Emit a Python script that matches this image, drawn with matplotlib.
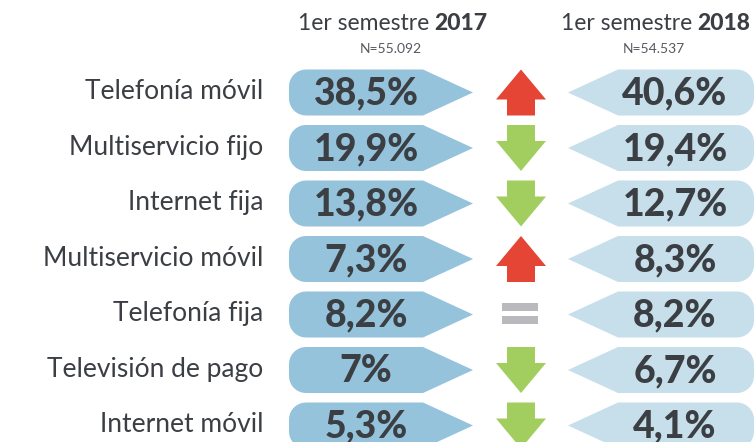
import numpy as np
import matplotlib
matplotlib.use("Agg")
import matplotlib.pyplot as plt
from matplotlib.path import Path
from matplotlib.patches import PathPatch, Polygon, Rectangle

# data
services = ["Telefonía móvil", "Multiservicio fijo", "Internet fija",
            "Multiservicio móvil", "Telefonía fija", "Televisión de pago",
            "Internet móvil"]
share_2017 = ["38,5%", "19,9%", "13,8%", "7,3%", "8,2%", "7%", "5,3%"]
share_2018 = ["40,6%", "19,4%", "12,7%", "8,3%", "8,2%", "6,7%", "4,1%"]
trend = ["up", "down", "down", "up", "eq", "down", "down"]
headers = ["2017", "2018"]
n_labels = ["N=55.092", "N=54.537"]

plt.rcParams['font.family'] = ['Lato', 'DejaVu Sans']

W, H = 754, 442
fig = plt.figure(figsize=(W / 100, H / 100), dpi=100)
ax = fig.add_axes([0, 0, 1, 1])
ax.set_xlim(0, W)
ax.set_ylim(H, 0)
ax.axis("off")

DARK = "#3b3f44"
C_LEFT = "#94c3db"
C_RIGHT = "#c6dfea"
C_UP = "#e54535"
C_DOWN = "#a1ce5f"
C_EQ = "#b9b9be"

row_h = 46
r = 17


def badge(x_round, x_flat, x_tip, yc, color):
    # pill with one rounded end and one pointed end
    s = np.sign(x_tip - x_round)
    top, bot = yc - row_h / 2, yc + row_h / 2
    verts = [(x_flat, top), (x_tip, yc), (x_flat, bot), (x_round + s * r, bot)]
    a = np.linspace(0, np.pi / 2, 10)
    cx = x_round + s * r
    for t in a:  # bottom corner
        verts.append((cx - s * r * np.sin(t), bot - r + r * np.cos(t)))
    for t in a:  # top corner
        verts.append((cx - s * r * np.cos(t), top + r - r * np.sin(t)))
    verts.append((x_flat, top))
    codes = [Path.MOVETO] + [Path.LINETO] * (len(verts) - 2) + [Path.CLOSEPOLY]
    ax.add_patch(PathPatch(Path(verts, codes), fc=color, ec="none"))


def arrow(xc, yc, direction, color):
    hw, sw, hh = 25, 14, 30
    top, bot = yc - row_h / 2, yc + row_h / 2
    if direction == "up":
        pts = [(xc, top), (xc + hw, top + hh), (xc + sw, top + hh), (xc + sw, bot),
               (xc - sw, bot), (xc - sw, top + hh), (xc - hw, top + hh)]
    else:
        pts = [(xc, bot), (xc + hw, bot - hh), (xc + sw, bot - hh), (xc + sw, top),
               (xc - sw, top), (xc - sw, bot - hh), (xc - hw, bot - hh)]
    ax.add_patch(Polygon(pts, closed=True, fc=color, ec="none"))


for i, name in enumerate(services):
    yc = 92.5 + 55.5 * i
    ax.text(263, yc - 1, name, ha="right", va="center", fontsize=19,
            color=DARK)
    badge(289, 423, 473, yc, C_LEFT)
    badge(754, 618, 568, yc, C_RIGHT)
    ax.text(366, yc + 1, share_2017[i], ha="center", va="center",
            fontsize=27, fontweight="black", color=DARK)
    ax.text(675, yc + 1, share_2018[i], ha="center", va="center",
            fontsize=27, fontweight="black", color=DARK)
    if trend[i] == "eq":
        ax.add_patch(Rectangle((502, yc - 11.5), 36, 8, fc=C_EQ, ec="none"))
        ax.add_patch(Rectangle((502, yc + 1.5), 36, 8, fc=C_EQ, ec="none"))
    else:
        arrow(521, yc, trend[i], C_UP if trend[i] == "up" else C_DOWN)

for xs, yr, n in zip([431, 694], headers, n_labels):
    ax.text(xs - 2, 23, "1er semestre", ha="right", va="center", fontsize=16.5,
            color=DARK)
    ax.text(xs + 3, 23, yr, ha="left", va="center", fontsize=16.5,
            fontweight="black", color=DARK)
    ax.text(xs - 40, 49, n, ha="center", va="center", fontsize=10,
            color="#555a60")

fig.savefig("out.png", dpi=100)
